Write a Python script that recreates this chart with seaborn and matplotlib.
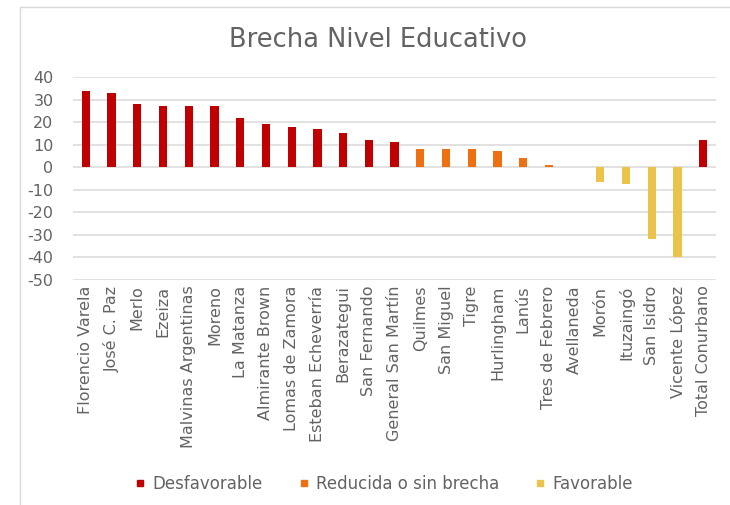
import matplotlib
matplotlib.use("Agg")
import matplotlib.pyplot as plt
from matplotlib.lines import Line2D
import seaborn as sns
import pandas as pd

municipios = ["Florencio Varela", "José C. Paz", "Merlo", "Ezeiza", "Malvinas Argentinas",
              "Moreno", "La Matanza", "Almirante Brown", "Lomas de Zamora", "Esteban Echeverría",
              "Berazategui", "San Fernando", "General San Martín", "Quilmes", "San Miguel",
              "Tigre", "Hurlingham", "Lanús", "Tres de Febrero", "Avellaneda", "Morón",
              "Ituzaingó", "San Isidro", "Vicente López", "Total Conurbano"]
brecha = [34, 33, 28, 27, 27, 27, 22, 19, 18, 17, 15, 12, 11, 8, 8, 8, 7, 4, 1, 0,
          -6.5, -7.5, -32, -40, 12]
grupo = ["Desfavorable"] * 13 + ["Reducida o sin brecha"] * 7 + ["Favorable"] * 4 + ["Desfavorable"]
grupos = ["Desfavorable", "Reducida o sin brecha", "Favorable"]
colores = ["#C00000", "#EE7010", "#EBC24A"]
yticks = [40, 30, 20, 10, 0, -10, -20, -30, -40, -50]

df = pd.DataFrame({"municipio": municipios, "brecha": brecha, "grupo": grupo})

sns.set_theme(style="white")
plt.rcParams["font.family"] = ["DejaVu Sans"]
plt.rcParams["axes.unicode_minus"] = False
txt = "#636363"

fig = plt.figure(figsize=(7.3, 5.05), dpi=100)
ax = fig.add_axes([0.1, 0.4455, 0.881, 0.402])

sns.barplot(data=df, x="municipio", y="brecha", hue="grupo", order=municipios,
            hue_order=grupos, palette=dict(zip(grupos, colores)), dodge=False,
            width=0.32, ax=ax, legend=False, saturation=1, linewidth=0, edgecolor="none")

ax.set_ylim(-50, 40)
ax.set_yticks(yticks)
ax.set_xlim(-0.5, len(municipios) - 0.5)
ax.yaxis.grid(True, color="#D9D9D9", linewidth=1.1)
ax.set_axisbelow(True)
for s in ax.spines.values():
    s.set_visible(False)
ax.set_xlabel("")
ax.set_ylabel("")
ax.tick_params(axis="y", labelsize=11.5, labelcolor=txt, length=0, pad=14)
ax.tick_params(axis="x", labelsize=11.5, labelcolor=txt, length=0, pad=4)
plt.setp(ax.get_xticklabels(), rotation=90, ha="center", va="top")
for lab in ax.get_yticklabels():
    lab.set_horizontalalignment("right")

fig.text(0.518, 0.921, "Brecha Nivel Educativo", ha="center", va="center",
         fontsize=18.5, color=txt)

handles = [Line2D([0], [0], marker="s", linestyle="", markersize=5,
                  markerfacecolor=c, markeredgecolor=c) for c in colores]
fig.legend(handles, grupos, loc="center", bbox_to_anchor=(0.526, 0.042), ncol=3,
           frameon=False, fontsize=12, labelcolor=txt, handlelength=0.6,
           handletextpad=0.4, columnspacing=2.2)

fig.add_artist(Line2D([20 / 730, 20 / 730], [0, 1 - 7 / 505], color="#D9D9D9",
                      linewidth=1, transform=fig.transFigure))
fig.add_artist(Line2D([20 / 730, 1], [1 - 7 / 505, 1 - 7 / 505], color="#D9D9D9",
                      linewidth=1, transform=fig.transFigure))

fig.savefig("out.png", dpi=100, facecolor="white")
